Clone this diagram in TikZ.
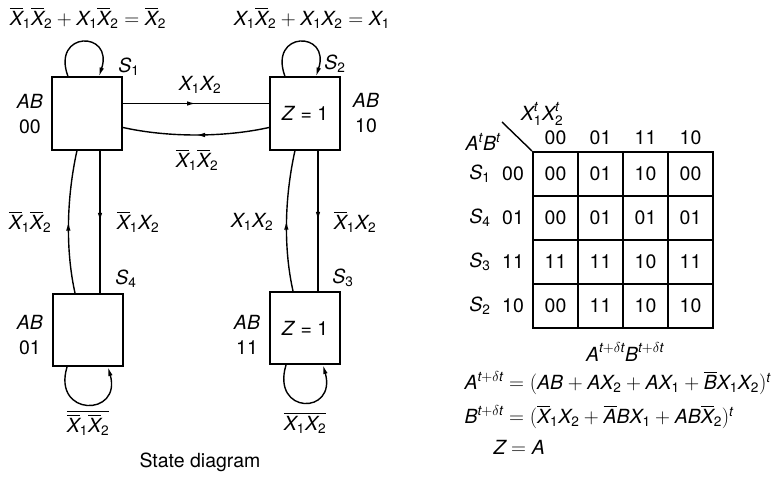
\documentclass[tikz,border=0pt]{standalone}
\usepackage{amsmath}
\usepackage{fontspec}
\setmainfont{TeX Gyre Heros}
\usetikzlibrary{arrows.meta, decorations.markings}

\newcommand{\iv}[1]{\text{\itshape #1}}
\newcommand{\Xv}[1]{\iv{X}_{\text{#1}}}
\newcommand{\Xn}[1]{\overline{\iv{X}}_{\text{#1}}}
\newcommand{\Sv}[1]{\iv{S}_{\text{#1}}}

\begin{document}
\begin{tikzpicture}[x=1pt, y=-1pt,
  font={\fontsize{19.5}{22}\selectfont},
  statebox/.style={draw, line width=2pt, minimum width=70pt, minimum height=72pt, inner sep=0pt},
  trans/.style={line width=1.4pt, decoration={markings, mark=at position 0.5 with {\arrow{Latex[length=9pt, width=4.5pt]}}}, postaction={decorate}},
  selfloop/.style={line width=1.4pt, -{Latex[length=9pt, width=4.5pt]}},
  kcell/.style={draw, line width=2pt, minimum width=45pt, minimum height=44pt, inner sep=0pt},
  two/.style={align=center, inner sep=1pt}
]
\useasboundingbox (0,0) rectangle (777,487);
\node[statebox] (s1) at (87,113.5) {};
\node[statebox] (s2) at (305,113.5) {\textit{Z} = 1};
\node[statebox] (s4) at (88,330) {};
\node[statebox] (s3) at (305,328) {\textit{Z} = 1};
\draw[selfloop] ([xshift=-19pt]s1.north) .. controls +(-17,-46) and +(15,-46) .. ([xshift=12pt]s1.north);
\draw[selfloop] ([xshift=-20pt]s2.north) .. controls +(-17,-46) and +(15,-46) .. ([xshift=11pt]s2.north);
\draw[selfloop] ([xshift=-21pt]s4.south) .. controls +(-15,50) and +(14,50) .. ([xshift=20pt]s4.south);
\draw[selfloop] ([xshift=-19pt]s3.south) .. controls +(-15,50) and +(14,50) .. ([xshift=18pt]s3.south);
\draw[trans] ([yshift=10pt]s1.east) -- ([yshift=10pt]s2.west);
\draw[trans] ([yshift=-14pt]s2.west) .. controls +(-45,10) and +(45,10) .. ([yshift=-14pt]s1.east);
\draw[trans] ([xshift=13pt]s1.south) -- ([xshift=12pt]s4.north);
\draw[trans] ([xshift=-13pt]s4.north) .. controls +(-10,-45) and +(-10,45) .. ([xshift=-10pt]s1.south);
\draw[trans] ([xshift=13pt]s2.south) -- ([xshift=13pt]s3.north);
\draw[trans] ([xshift=-12pt]s3.north) .. controls +(-10,-45) and +(-10,45) .. ([xshift=-10pt]s2.south);
\node (top1) at (88,18) {$\Xn{1}\Xn{2} + \Xv{1}\Xn{2} = \Xn{2}$};
\node (top2) at (312,18) {$\Xv{1}\Xn{2} + \Xv{1}\Xv{2} = \Xv{1}$};
\node (ls1) at (129,67) {$\Sv{1}$};
\node (ls2) at (335,64) {$\Sv{2}$};
\node (ls4) at (126,279) {$\Sv{4}$};
\node (ls3) at (343,278) {$\Sv{3}$};
\node[two] (ab1) at (30,114) {\textit{AB}\\[3pt]00};
\node[two] (ab2) at (366,113) {\textit{AB}\\[3pt]10};
\node[two] (ab4) at (30,335) {\textit{AB}\\[3pt]01};
\node[two] (ab3) at (247,335) {\textit{AB}\\[3pt]11};
\node (t12) at (200,85) {$\Xv{1}\Xv{2}$};
\node (t21) at (197,160) {$\Xn{1}\Xn{2}$};
\node (t14) at (138,222) {$\Xn{1}\Xv{2}$};
\node (t41) at (30,222) {$\Xn{1}\Xn{2}$};
\node (t23) at (355,222) {$\Xn{1}\Xv{2}$};
\node (t32) at (252,222) {$\Xv{1}\Xv{2}$};
\node (t44) at (88,423) {$\overline{\Xn{1}\Xn{2}}$};
\node (t33) at (305,423) {$\overline{\Xv{1}\Xv{2}}$};
\node (title) at (200,462) {State diagram};
\foreach \vals [count=\r] in {{00,01,10,00},{00,01,01,01},{11,11,10,11},{00,11,10,10}}
  \foreach \v [count=\c] in \vals
    \node[kcell] (k\r\c) at (510.5+45*\c,130+44*\r) {\v};
\foreach \h [count=\c] in {00,01,11,10} \node (h\c) at (510.5+45*\c,138) {\h};
\foreach \s/\ab [count=\r] in {1/00,4/01,3/11,2/10} {
  \node (sr\r) at (480,130+44*\r) {$\Sv{\s}$};
  \node (ar\r) at (513,130+44*\r) {\ab};
}
\node (xhead) at (542,114) {$\iv{X}^{\iv{t}}_{\text{1}}\iv{X}^{\iv{t}}_{\text{2}}$};
\node (abhead) at (483,142) {$\iv{A}^{\iv{t}}\iv{B}^{\iv{t}}$};
\coordinate (diag) at (502,122);
\draw[line width=1.4pt] (diag) -- (k11.north west);
\node (nslbl) at (625,352) {$\iv{A}^{\iv{t}+\delta\iv{t}}\iv{B}^{\iv{t}+\delta\iv{t}}$};
\node[anchor=west] (eqa) at (461,383) {$\iv{A}^{\iv{t}+\delta\iv{t}} = (\iv{AB} + \iv{A}\Xv{2} + \iv{A}\Xv{1} + \overline{\iv{B}}\Xv{1}\Xv{2})^{\iv{t}}$};
\node[anchor=west] (eqb) at (461,417) {$\iv{B}^{\iv{t}+\delta\iv{t}} = (\Xn{1}\Xv{2} + \overline{\iv{A}}\iv{B}\Xv{1} + \iv{AB}\Xn{2})^{\iv{t}}$};
\node[anchor=west] (eqz) at (490,447) {$\iv{Z} = \iv{A}$};
\end{tikzpicture}
\end{document}
